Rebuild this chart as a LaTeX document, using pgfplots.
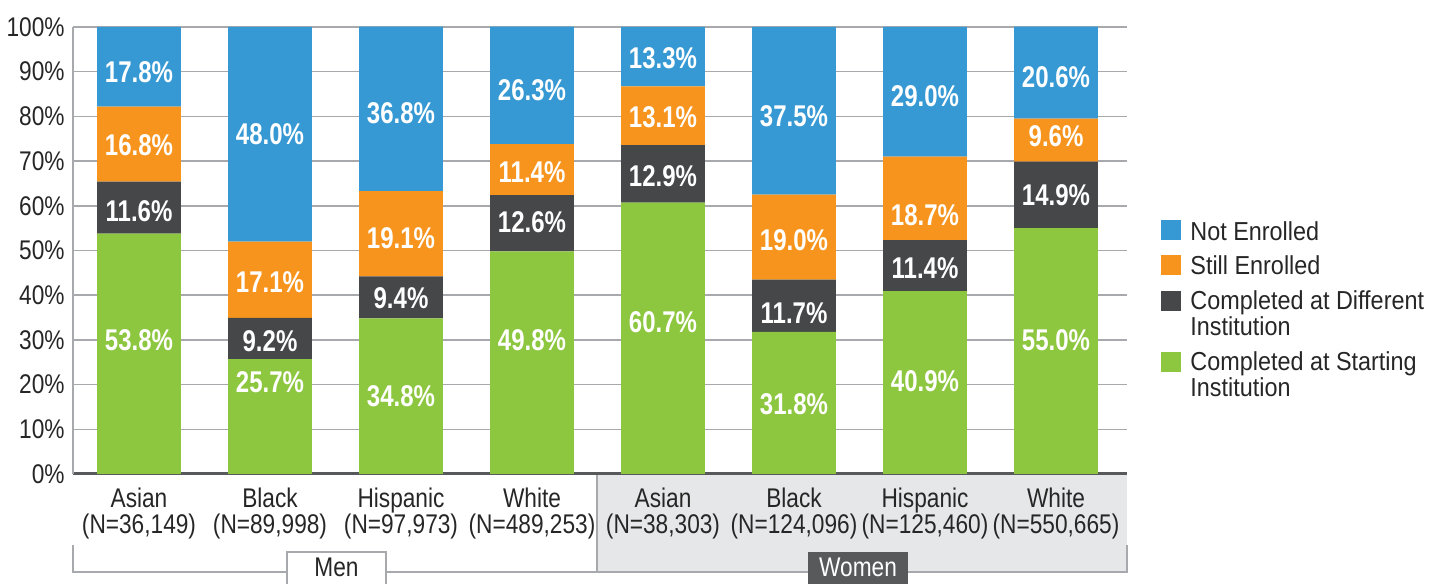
\documentclass[border=0pt]{standalone}
\usepackage{fontspec}
\setmainfont{Liberation Sans}[FakeStretch=0.9]
\newfontfamily\lblfont{Liberation Sans}[FakeStretch=0.8]
\newfontfamily\tickfont{Liberation Sans}[FakeStretch=0.84]
\usepackage{pgfplots}
\usepackage{pgfplotstable}
\pgfplotsset{compat=1.18}
\definecolor{cblue}{HTML}{3799D4}
\definecolor{corange}{HTML}{F7941D}
\definecolor{cdark}{HTML}{464749}
\definecolor{cgreen}{HTML}{8DC63F}
\definecolor{gline}{HTML}{A7A9AC}
\definecolor{dline}{HTML}{58595B}
\definecolor{gbg}{HTML}{E6E7E8}

\pgfplotstableread{
x green dark orange blue
0 53.8 11.6 16.8 17.8
1 25.7 9.2 17.1 48.0
2 34.8 9.4 19.1 36.8
3 49.8 12.6 11.4 26.3
4 60.7 12.9 13.1 13.3
5 31.8 11.7 19.0 37.5
6 40.9 11.4 18.7 29.0
7 55.0 14.9 9.6 20.6
}\bars

\pgfplotstableread{
x y t
0 89.9 17.8
0 73.6 16.8
0 58.8 11.6
0 30.0 53.8
1 76.1 48.0
1 43.0 17.1
1 29.8 9.2
1 20.6 25.7
2 80.8 36.8
2 52.8 19.1
2 39.4 9.4
2 17.4 34.8
3 85.9 26.3
3 67.6 11.4
3 56.4 12.6
3 30.0 49.8
4 93.1 13.3
4 79.9 13.1
4 66.7 12.9
4 34.0 60.7
5 80.1 37.5
5 52.3 19.0
5 36.0 11.7
5 15.7 31.8
6 84.6 29.0
6 57.9 18.7
6 46.1 11.4
6 20.8 40.9
7 88.8 20.6
7 75.6 9.6
7 62.4 14.9
7 30.0 55.0
}\labels

\pgfplotsset{base/.style={scale only axis, width=527pt, height=223.5pt,
  xmin=-0.5038, xmax=7.542, ymin=0, ymax=100,
  at={(36.5pt,55pt)}, anchor=south west}}

\newcommand\tfont{\fontsize{13}{12.9}\selectfont}
\newcommand\kfont{\fontsize{13.5}{12.9}\tickfont}

\begin{document}
\begin{tikzpicture}
\useasboundingbox (0,0) rectangle (724pt,292pt);

\begin{scope}[yshift=292pt, x=0.5pt, y=-0.5pt]
  \fill[gbg] (597,474) rectangle (1127,572);
  \draw[gline, line width=0.75pt] (73,545) -- (73,572) -- (1127,572) -- (1127,545);
  \draw[gline, line width=0.75pt] (597,474) -- (597,572);
\end{scope}

\begin{axis}[base, ybar stacked, bar width=0.64,
  axis x line=bottom, axis y line=left,
  x axis line style={-, draw=dline, line width=1.5pt},
  y axis line style={-, draw=gline, line width=0.75pt},
  ymajorgrids, grid style={draw=gline, line width=0.75pt},
  major tick length=0pt,
  xtick={0,...,7},
  xticklabels={{Asian\\(N=36,149)},{Black\\(N=89,998)},{Hispanic\\(N=97,973)},{White\\(N=489,253)},{Asian\\(N=38,303)},{Black\\(N=124,096)},{Hispanic\\(N=125,460)},{White\\(N=550,665)}},
  ytick={0,10,...,100},
  yticklabels={0\%,10\%,20\%,30\%,40\%,50\%,60\%,70\%,80\%,90\%,100\%},
  tick label style={font=\kfont, text=black!85},
  xticklabel style={align=center, inner sep=0pt, yshift=-6.9pt},
  yticklabel style={inner sep=0pt, xshift=-4pt},
]
\addplot[fill=cgreen, draw=none] table[x=x,y=green]{\bars};
\addplot[fill=cdark, draw=none] table[x=x,y=dark]{\bars};
\addplot[fill=corange, draw=none] table[x=x,y=orange]{\bars};
\addplot[fill=cblue, draw=none] table[x=x,y=blue]{\bars};
\end{axis}

\begin{axis}[base, hide axis]
\addplot[draw=none, mark=none, point meta=explicit symbolic,
  nodes near coords={\pgfplotspointmeta\%},
  every node near coord/.style={anchor=center, text=white, font=\fontsize{15}{15}\lblfont\bfseries}]
  table[x=x,y=y,meta=t]{\labels};
\end{axis}

\begin{scope}[yshift=292pt, x=0.5pt, y=-0.5pt]
  \filldraw[fill=white, draw=gline, line width=0.75pt] (287,552) rectangle (386,600);
  \node[anchor=base, inner sep=0pt, font=\kfont, text=black!85] at (336.5,577) {Men};
  \fill[dline] (808,552) rectangle (908,600);
  \node[anchor=base, inner sep=0pt, font=\kfont, text=white] at (858,577) {Women};
  % legend
  \fill[cblue] (1161,220) rectangle (1181,240);
  \fill[corange] (1161,255) rectangle (1181,275);
  \fill[cdark] (1161,291) rectangle (1181,311);
  \fill[cgreen] (1161,352) rectangle (1181,372);
  \begin{scope}[every node/.style={anchor=base west, inner sep=0pt, font=\tfont, text=black!85}]
  \node at (1190,240.7) {Not Enrolled};
  \node at (1190,275) {Still Enrolled};
  \node at (1190,310) {Completed at Different};
  \node at (1190,336) {Institution};
  \node at (1190,370.7) {Completed at Starting};
  \node at (1190,396.7) {Institution};
  \end{scope}
\end{scope}
\end{tikzpicture}
\end{document}
